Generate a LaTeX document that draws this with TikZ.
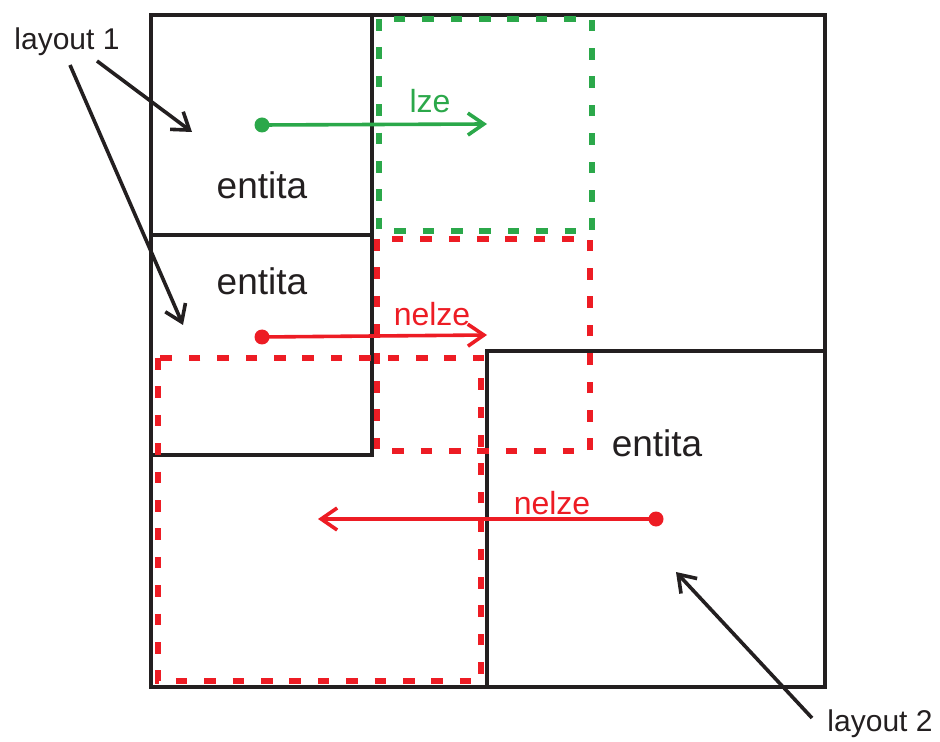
\documentclass[tikz,border=0pt]{standalone}
\usepackage{fontspec}
\setmainfont{Liberation Sans}
\usetikzlibrary{arrows.meta}
\usetikzlibrary{positioning}
\definecolor{ok-green}{HTML}{2BA84A}
\definecolor{no-red}{HTML}{ED1C24}
\definecolor{ink}{HTML}{231F20}

\begin{document}
\begin{tikzpicture}[x=0.5pt, y=-0.5pt,
  text only/.style={inner sep=2pt, align=center},
  entity box/.style={draw=ink, line width=2pt},
  ghost box/.style={line width=2.8pt, dash pattern=on 5.8pt off 8.4pt},
  move/.style={line width=1.8pt, -{Straight Barb[length=8pt, width=11pt, line width=1.8pt]}},
  pointer/.style={draw=ink, line width=1.8pt, -{Straight Barb[length=8pt, width=11pt, line width=1.8pt]}}]
\useasboundingbox (0,0) rectangle (940,742);

% layouts and entities
\draw[entity box] (151,15) rectangle (825,687);
\draw[entity box] (151,15) rectangle (372,235);
\draw[entity box] (151,235) rectangle (372,455);
\draw[entity box] (487,351) rectangle (825,687);

% candidate positions
\draw[ghost box, draw=no-red] (377,239) rectangle (590,451);
\draw[ghost box, draw=ok-green] (379,19) rectangle (592,231);
\draw[ghost box, draw=no-red] (158,358) rectangle (481,681);

\node[text only, font=\fontsize{18.5}{20}\selectfont, text=ink] (ent-a) at (262,185) {entita};
\node[text only, font=\fontsize{18.5}{20}\selectfont, text=ink] (ent-b) at (262,281) {entita};
\node[text only, font=\fontsize{18.5}{20}\selectfont, text=ink] (ent-c) at (657,443) {entita};

% moves
\foreach \name/\colour/\from/\to/\word/\wordat in {
    lze/ok-green/{262,125}/{487,124}/lze/{430,101},
    nelze-a/no-red/{262,337}/{487,335}/nelze/{432,314},
    nelze-b/no-red/{656,519}/{318,519}/nelze/{552,503}} {
  \coordinate (start-\name) at (\from);
  \coordinate (end-\name) at (\to);
  \fill[\colour] (start-\name) circle (7.5);
  \draw[move, draw=\colour] (start-\name) -- (end-\name);
  \node[text only, text=\colour, font=\fontsize{16}{18}\selectfont] (word-\name) at (\wordat) {\word};
}

% layout labels
\node[text only, text=ink, font=\fontsize{15}{17}\selectfont] (layout-1) at (67,42) {layout 1};
\node[text only, text=ink, font=\fontsize{15}{17}\selectfont] (layout-2) at (880,724) {layout 2};
\coordinate (tip-1a) at (192,132);
\coordinate (tip-1b) at (183,325);
\coordinate (tip-2) at (676,572);
\draw[pointer] (97,61) -- (tip-1a);
\draw[pointer] (70,65) -- (tip-1b);
\draw[pointer] (812,718) -- (tip-2);
\end{tikzpicture}
\end{document}
